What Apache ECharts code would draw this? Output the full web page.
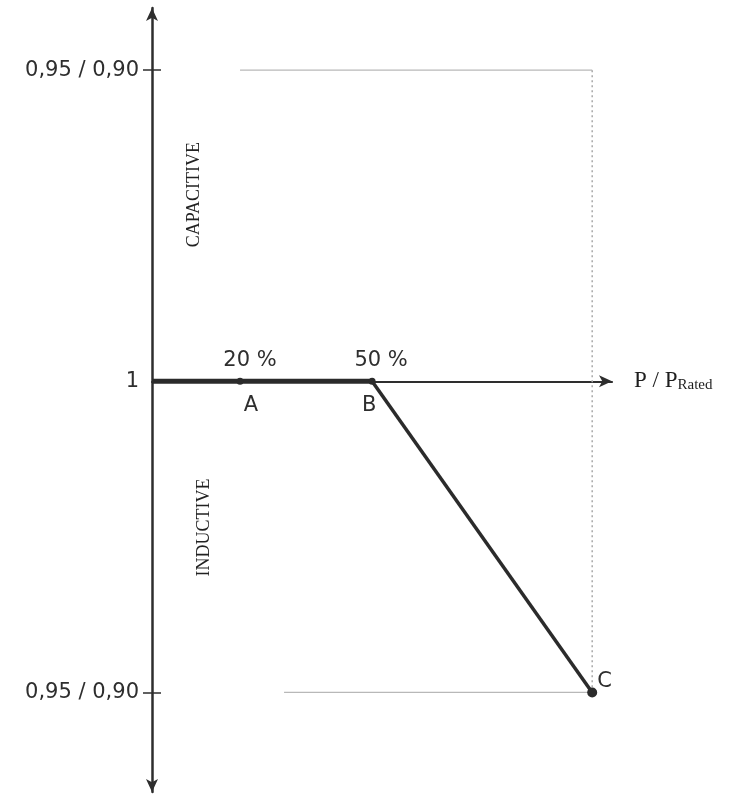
<!DOCTYPE html>
<html>
<head>
<meta charset="utf-8">
<script src="https://cdn.jsdelivr.net/npm/echarts@6/dist/echarts.min.js"></script>
<style>
html,body{margin:0;padding:0;background:#fff;}
#c{width:731px;height:796px;}
</style>
</head>
<body>
<div id="c"></div>
<script>
// ---- data ----
var yTickValues = [-1, 0, 1];
var yTickLabels = ['0,95 / 0,90', '1', '0,95 / 0,90'];
var xAxisName = ['P / P', 'Rated'];
var flatSegment = [[0, 0], [50, 0]];          // 0 % .. 50 %, cos phi = 1
var slopeSegment = [[50, 0], [100, -1]];      // 50 % .. 100 %, down to 0,95/0,90 inductive
var pointNames = ['A', 'B', 'C'];
var pointX = [20, 50, 100];
var pointY = [0, 0, -1];
var pointPct = ['20 %', '50 %', ''];
var limitTop = [[20, 1], [100, 1]];
var limitRight = [[100, 1], [100, -1]];
var limitBottom = [[30, -1], [100, -1]];
var regionNames = ['CAPACITIVE', 'INDUCTIVE'];
var regionX = [9.5, 11.8];
var regionY = [0.6, -0.47];

var ink = '#2e2e2e';
var numFont = 'DejaVu Sans';
var serifFont = 'Liberation Serif';
var nameOffsets = [[11, 0], [-3, 0], [0, 0]];
var pctOffsets = [[10, 0], [9, 0], [0, 0]];

var chart = echarts.init(document.getElementById('c'), null, {renderer: 'canvas'});

var points = pointNames.map(function (n, i) { return [pointX[i], pointY[i]]; });

function labelItems(offsets, textArr, pos, dist) {
  return points.map(function (p, i) {
    return {
      value: p,
      label: {show: true, position: pos, distance: dist, offset: offsets[i],
        formatter: textArr[i] || ''}
    };
  });
}

chart.setOption({
  animation: false,
  backgroundColor: '#ffffff',
  grid: {left: 152, width: 460, top: 8, height: 784, containLabel: false},
  xAxis: {
    type: 'value', min: 0, max: 104.5,
    splitLine: {show: false},
    axisTick: {show: false},
    axisLabel: {show: false},
    axisLine: {
      show: true, onZero: true,
      lineStyle: {color: ink, width: 2.2},
      symbol: ['none', 'arrow'], symbolSize: [9, 13]
    },
    name: '{a|' + xAxisName[0] + '}{b|' + xAxisName[1] + '}',
    nameLocation: 'end',
    nameGap: 22,
    nameTextStyle: {
      align: 'left', verticalAlign: 'middle',
      rich: {
        a: {fontFamily: serifFont, fontSize: 23, color: '#1e1e1e'},
        b: {fontFamily: serifFont, fontSize: 15, color: '#1e1e1e', padding: [8, 0, 0, 0]}
      }
    }
  },
  yAxis: [{
    type: 'value', min: -1.32, max: 1.2,
    splitLine: {show: false},
    axisLine: {
      show: true, onZero: false,
      lineStyle: {color: ink, width: 2.5},
      symbol: ['arrow', 'arrow'], symbolSize: [9, 13]
    },
    axisTick: {
      show: true, customValues: [-1, 1], length: 9,
      lineStyle: {color: ink, width: 1.5}
    },
    axisLabel: {
      show: true, customValues: yTickValues, margin: 13,
      fontFamily: numFont, fontSize: 21, color: '#2e2e2e',
      formatter: function (v) {
        var i = yTickValues.indexOf(Math.round(v * 100) / 100);
        return i >= 0 ? yTickLabels[i] : '';
      }
    }
  }, {
    type: 'value', min: -1.32, max: 1.2, position: 'left',
    splitLine: {show: false},
    axisLine: {show: false},
    axisLabel: {show: false},
    axisTick: {
      show: true, inside: true, customValues: [-1, 1], length: 9,
      lineStyle: {color: ink, width: 1.5}
    }
  }],
  series: [
    {
      type: 'line', data: limitTop, symbol: 'none', silent: true,
      lineStyle: {color: '#b8b8b8', width: 1.2, type: 'solid'}
    },
    {
      type: 'line', data: limitRight, symbol: 'none', silent: true,
      lineStyle: {color: '#a8a8a8', width: 1.5, type: [2, 3]}
    },
    {
      type: 'line', data: limitBottom, symbol: 'none', silent: true,
      lineStyle: {color: '#b8b8b8', width: 1.2, type: 'solid'}
    },
    {
      type: 'line', data: flatSegment, symbol: 'none',
      lineStyle: {color: '#2b2b2b', width: 5}
    },
    {
      type: 'line', data: slopeSegment, symbol: 'none',
      lineStyle: {color: '#2b2b2b', width: 3.5}
    },
    {
      type: 'scatter', data: points,
      symbol: 'circle',
      symbolSize: function (v, p) { return p.dataIndex === 2 ? 10 : 7; },
      itemStyle: {color: '#2b2b2b', opacity: 1},
      z: 5
    },
    {
      type: 'scatter', symbolSize: 0, itemStyle: {opacity: 1},
      data: labelItems(nameOffsets, pointNames.slice(0, 2), 'bottom', 14),
      label: {fontFamily: numFont, fontSize: 21, color: '#2e2e2e'}
    },
    {
      type: 'scatter', symbolSize: 0, itemStyle: {opacity: 1},
      data: labelItems(pctOffsets, pointPct, 'top', 10),
      label: {fontFamily: numFont, fontSize: 21, color: '#2e2e2e'}
    },
    {
      type: 'scatter', data: [points[2]], symbolSize: 0, itemStyle: {opacity: 1},
      label: {
        show: true, position: 'right', distance: 5, offset: [0, -11],
        fontFamily: numFont, fontSize: 21, color: '#2e2e2e',
        formatter: function () { return pointNames[2]; }
      }
    },
    {
      type: 'scatter', symbolSize: 0, itemStyle: {opacity: 1},
      data: regionNames.map(function (n, i) { return [regionX[i], regionY[i]]; }),
      label: {
        show: true, position: 'inside', rotate: 90,
        fontFamily: serifFont, fontSize: 18, color: '#222',
        formatter: function (p) { return regionNames[p.dataIndex]; }
      }
    }
  ]
});
</script>
</body>
</html>
